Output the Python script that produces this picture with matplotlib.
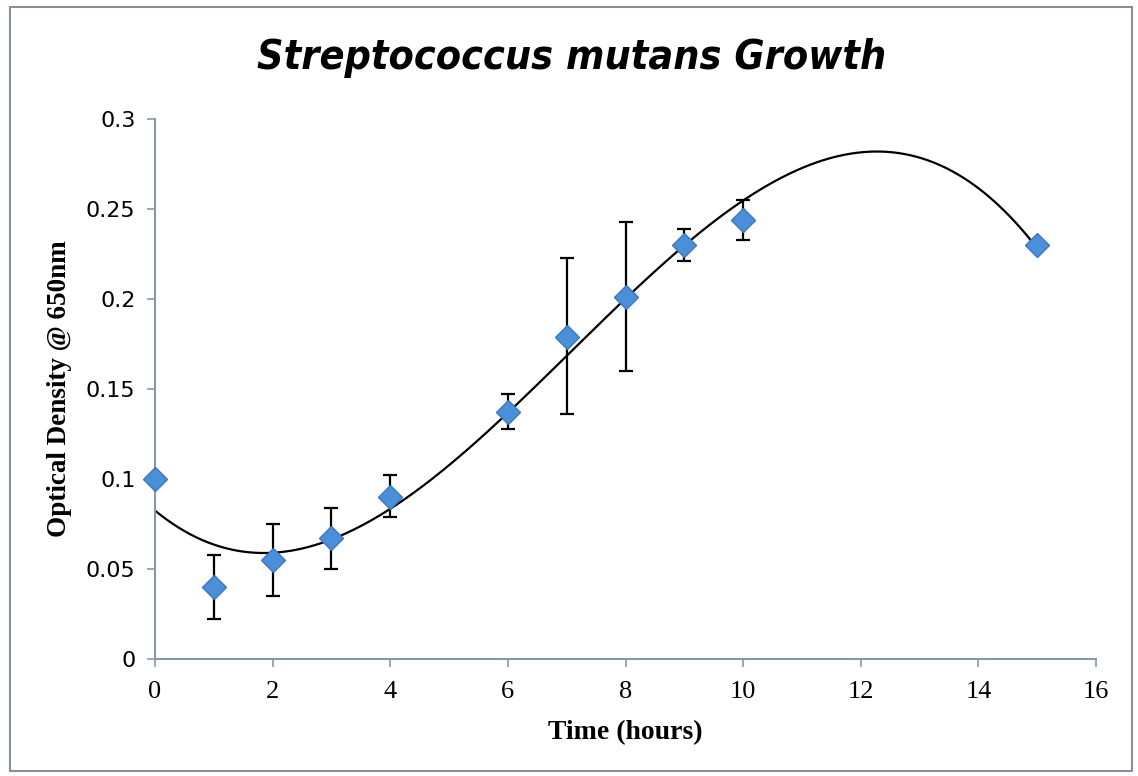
import numpy as np
import matplotlib
matplotlib.use("Agg")
import matplotlib.pyplot as plt
from matplotlib.patches import Rectangle

# data
hours = [0, 1, 2, 3, 4, 6, 7, 8, 9, 10, 15]
od650 = [0.100, 0.040, 0.055, 0.067, 0.090, 0.137, 0.179, 0.201, 0.230, 0.244, 0.230]
err_low = [0.0, 0.018, 0.020, 0.017, 0.011, 0.009, 0.043, 0.041, 0.009, 0.011, 0.0]
err_high = [0.0, 0.018, 0.020, 0.017, 0.012, 0.010, 0.044, 0.042, 0.009, 0.011, 0.0]
x_ticks = [0, 2, 4, 6, 8, 10, 12, 14, 16]
y_ticks = [0, 0.05, 0.1, 0.15, 0.2, 0.25, 0.3]
y_tick_labels = ["0", "0.05", "0.1", "0.15", "0.2", "0.25", "0.3"]

fig = plt.figure(figsize=(11.38, 7.76), dpi=100)
fig.patch.set_facecolor("white")
# frame round the whole chart
fig.patches.append(Rectangle((0.009, 0.006), 0.986, 0.985, transform=fig.transFigure,
                             fill=False, edgecolor="#8a8f96", linewidth=1.5))

ax = fig.add_axes([0.1362, 0.1508, 0.8269, 0.6958])

# polynomial trendline (order 3), as Excel would draw it
coef = np.polyfit(hours, od650, 3)
xs = np.linspace(0, 15, 300)
ax.plot(xs, np.polyval(coef, xs), color="black", linewidth=1.6, zorder=2)

# error bars, only where there is a spread
has_err = [i for i in range(len(hours)) if err_low[i] > 0]
ax.errorbar([hours[i] for i in has_err], [od650[i] for i in has_err],
            yerr=[[err_low[i] for i in has_err], [err_high[i] for i in has_err]],
            fmt="none", ecolor="black", elinewidth=1.6, capsize=5, capthick=1.6, zorder=3)

ax.plot(hours, od650, linestyle="none", marker="D", markersize=12.5, clip_on=False,
        markerfacecolor="#4a8fd8", markeredgecolor="#3a78c0", markeredgewidth=1.0, zorder=4)

ax.set_xlim(0, 16)
ax.set_ylim(0, 0.3)
ax.set_xticks(x_ticks)
ax.set_yticks(y_ticks)
ax.set_yticklabels(y_tick_labels)

for s in ["top", "right"]:
    ax.spines[s].set_visible(False)
for s in ["left", "bottom"]:
    ax.spines[s].set_color("#8898aa")
    ax.spines[s].set_linewidth(1.5)
ax.tick_params(axis="both", direction="out", length=6, width=1.2, color="#8898aa")
ax.tick_params(axis="x", pad=10)
ax.tick_params(axis="y", pad=8)

for lab in ax.get_xticklabels():
    lab.set_fontfamily("Liberation Serif")
    lab.set_fontsize(19)
for lab in ax.get_yticklabels():
    lab.set_fontfamily("DejaVu Sans")
    lab.set_fontsize(16)

ax.set_xlabel("Time (hours)", fontsize=20, fontweight="bold",
              fontfamily="Liberation Serif", labelpad=12)
ax.set_ylabel("Optical Density @ 650nm", fontsize=19.5, fontweight="bold",
              fontfamily="Liberation Serif", labelpad=10)

fig.text(0.502, 0.925, "Streptococcus mutans Growth", ha="center", va="center",
         fontsize=29.5, fontweight="bold", fontstyle="italic", fontstretch="condensed",
         fontfamily="DejaVu Sans")

fig.savefig("out.png", dpi=100, facecolor="white")
